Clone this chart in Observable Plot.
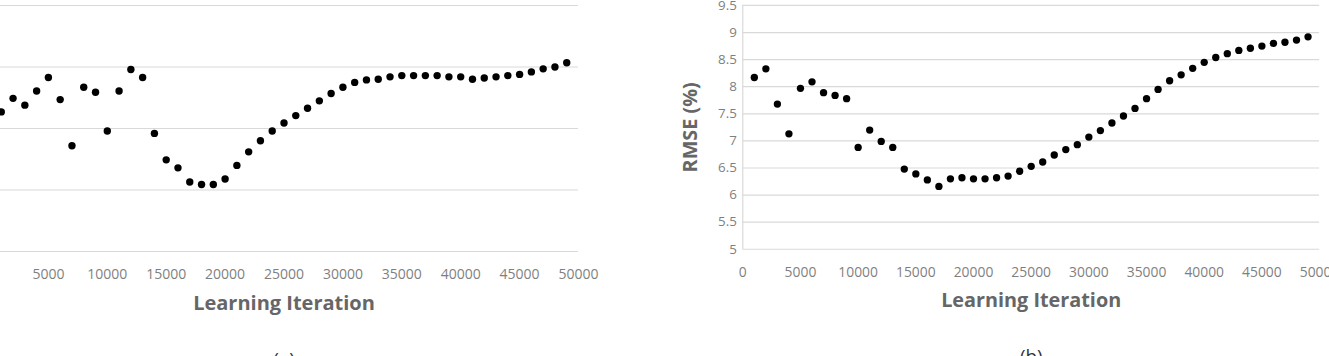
<!DOCTYPE html>
<html>
<head>
<meta charset="utf-8">
<script src="https://cdn.jsdelivr.net/npm/d3@7"></script>
<script src="https://cdn.jsdelivr.net/npm/@observablehq/plot@0.6"></script>
<style>
  html, body { margin: 0; padding: 0; background: #fff; }
  #page { position: relative; width: 1329px; height: 356px; overflow: hidden; background: #fff; font-family: "Open Sans", sans-serif; }
  .panel { position: absolute; top: 0; }
</style>
</head>
<body>
<div id="page">
  <div id="panelA" class="panel"></div>
  <div id="panelB" class="panel"></div>
</div>
<script>
// ---- Data ----
const iterations = d3.range(1000, 50000, 1000); // 1000 ... 49000 (read: one point every 1000 iterations)
const xTicks = [0, 5000, 10000, 15000, 20000, 25000, 30000, 35000, 40000, 45000, 50000];

// Panel (a): y-axis labels are cropped off in the reference; values in gridline units
const yTicksA = [0, 1, 2, 3, 4];
const valuesA = [
  2.27, 2.49, 2.38, 2.61, 2.83, 2.47, 1.72, 2.67, 2.59, 1.96,
  2.61, 2.96, 2.83, 1.92, 1.49, 1.36, 1.13, 1.09, 1.09, 1.18,
  1.40, 1.62, 1.80, 1.96, 2.09, 2.21, 2.33, 2.45, 2.57, 2.67,
  2.75, 2.79, 2.80, 2.84, 2.86, 2.86, 2.86, 2.86, 2.84, 2.84,
  2.80, 2.82, 2.84, 2.86, 2.88, 2.92, 2.97, 3.00, 3.07
];

// Panel (b): RMSE (%)
const yTicksB = [5, 5.5, 6, 6.5, 7, 7.5, 8, 8.5, 9, 9.5];
const valuesB = [
  8.17, 8.33, 7.68, 7.13, 7.97, 8.09, 7.89, 7.84, 7.78, 6.88,
  7.20, 6.99, 6.88, 6.48, 6.39, 6.28, 6.16, 6.30, 6.32, 6.30,
  6.30, 6.32, 6.35, 6.44, 6.53, 6.61, 6.74, 6.84, 6.93, 7.07,
  7.19, 7.33, 7.46, 7.60, 7.78, 7.95, 8.11, 8.22, 8.34, 8.45,
  8.54, 8.61, 8.67, 8.71, 8.75, 8.80, 8.82, 8.86, 8.92
];

const xTitle = "Learning Iteration";
const yTitleB = "RMSE (%)";

// ---- Styling ----
const gridColor = "#d9d9d9";
const tickColor = "#7f7f7f";
const titleColor = "#666666";

function makePanel({values, yTicks, plotWidth, yTitle, caption}) {
  const marginLeft = 80, marginRight = 10, marginTop = 5, marginBottom = 105;
  const data = iterations.map((it, i) => ({it, v: values[i]}));
  return Plot.plot({
    width: marginLeft + plotWidth + marginRight,
    height: 356,
    marginLeft, marginRight, marginTop, marginBottom,
    style: {fontFamily: "'Open Sans', sans-serif", background: "transparent", overflow: "visible"},
    x: {domain: [0, 50000]},
    y: {domain: [yTicks[0], yTicks[yTicks.length - 1]]},
    marks: [
      Plot.gridY(yTicks, {stroke: gridColor, strokeOpacity: 1, strokeWidth: 1.2}),
      Plot.ruleX([0], {stroke: gridColor, strokeWidth: 1.2}),
      Plot.axisX(xTicks, {tickSize: 0, tickPadding: 18, fontSize: 14, fill: tickColor, label: null, tickFormat: d => String(d)}),
      Plot.axisY(yTicks, {tickSize: 0, tickPadding: 6, fontSize: 13.5, fill: tickColor, label: null, tickFormat: d => String(d)}),
      Plot.dot(data, {x: "it", y: "v", r: 3.7, fill: "#000", stroke: "none"}),
      Plot.text([xTitle], {frameAnchor: "bottom", dy: 52, lineAnchor: "middle", textAnchor: "middle", text: d => d, fontSize: 20, fontWeight: "bold", fill: titleColor}),
      yTitle ? Plot.text([yTitle], {frameAnchor: "left", dx: -53, rotate: -90, textAnchor: "middle", lineAnchor: "middle", text: d => d, fontSize: 20, fontWeight: "bold", fill: titleColor}) : null,
      Plot.text([caption], {frameAnchor: "bottom", dy: 101, lineAnchor: "top", textAnchor: "middle", text: d => d, fontSize: 19, fill: "#333"})
    ]
  });
}

const a = makePanel({values: valuesA, yTicks: yTicksA, plotWidth: 589, yTitle: null, caption: "(a)"});
const b = makePanel({values: valuesB, yTicks: yTicksB, plotWidth: 582, yTitle: yTitleB, caption: "(b)"});

const pa = document.getElementById("panelA");
pa.style.left = (-11 - 80) + "px";
pa.appendChild(a);
const pb = document.getElementById("panelB");
pb.style.left = (743 - 80) + "px";
pb.appendChild(b);
</script>
</body>
</html>
